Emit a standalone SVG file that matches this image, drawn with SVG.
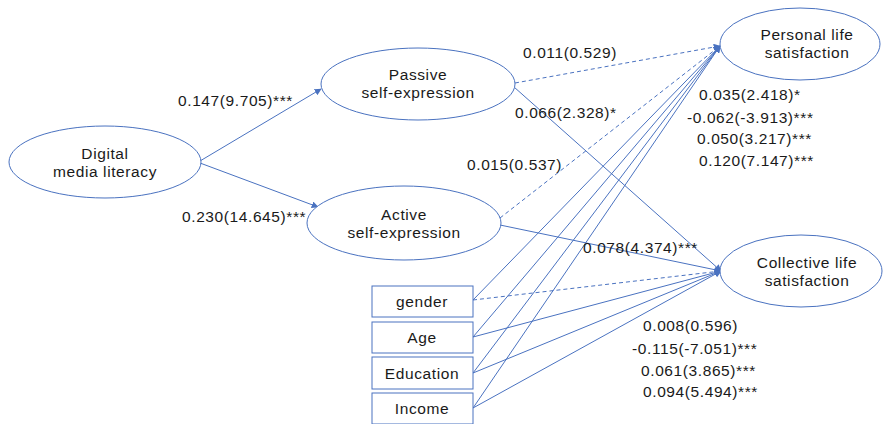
<svg xmlns="http://www.w3.org/2000/svg" width="887" height="424" viewBox="0 0 887 424">
<style>
.n{fill:#fff;stroke:#4a72c0;stroke-width:1}
.c{stroke:#4a72c0;stroke-width:1;fill:none}
.d{stroke:#4a72c0;stroke-width:1;fill:none;stroke-dasharray:4 3}
text{font-family:"Liberation Sans",Arial,sans-serif;font-size:15.5px;letter-spacing:0.6px;fill:#1a1a1a}
.m{text-anchor:middle}
</style>
<defs>
<marker id="a" viewBox="0 0 10 10" refX="9" refY="5" markerWidth="7" markerHeight="7" markerUnits="userSpaceOnUse" orient="auto">
<path d="M0,0L10,5L0,10z" fill="#4a72c0"/>
</marker>
</defs>
<rect width="887" height="424" fill="#fff"/>
<g id="connectors">
<line class="c" x1="200" y1="161" x2="321" y2="89" marker-end="url(#a)"/>
<line class="c" x1="200" y1="163" x2="318" y2="207" marker-end="url(#a)"/>
<line class="d" x1="515" y1="83" x2="720" y2="46" marker-end="url(#a)"/>
<line class="c" x1="514" y1="87" x2="721" y2="271" marker-end="url(#a)"/>
<line class="d" x1="500" y1="218" x2="720" y2="46" marker-end="url(#a)"/>
<line class="c" x1="500" y1="225" x2="721" y2="271" marker-end="url(#a)"/>
<line class="c" x1="473" y1="300" x2="720" y2="46" marker-end="url(#a)"/>
<line class="d" x1="473" y1="300" x2="721" y2="271" marker-end="url(#a)"/>
<line class="c" x1="473" y1="337" x2="720" y2="46" marker-end="url(#a)"/>
<line class="c" x1="473" y1="337" x2="721" y2="271" marker-end="url(#a)"/>
<line class="c" x1="473" y1="373" x2="720" y2="46" marker-end="url(#a)"/>
<line class="c" x1="473" y1="373" x2="721" y2="271" marker-end="url(#a)"/>
<line class="c" x1="473" y1="408" x2="720" y2="46" marker-end="url(#a)"/>
<line class="c" x1="473" y1="408" x2="721" y2="271" marker-end="url(#a)"/>
</g>
<g id="labels">
<text x="178" y="106">0.147(9.705)***</text>
<text x="182" y="222">0.230(14.645)***</text>
<text x="523" y="58">0.011(0.529)</text>
<text x="515" y="118">0.066(2.328)*</text>
<text x="467" y="170">0.015(0.537)</text>
<text x="583" y="253">0.078(4.374)***</text>
<text x="699" y="100">0.035(2.418)*</text>
<text x="687" y="123">-0.062(-3.913)***</text>
<text x="697" y="144">0.050(3.217)***</text>
<text x="699" y="166">0.120(7.147)***</text>
<text x="643" y="331">0.008(0.596)</text>
<text x="632" y="354">-0.115(-7.051)***</text>
<text x="641" y="376">0.061(3.865)***</text>
<text x="643" y="397">0.094(5.494)***</text>
</g>
<g id="dml">
<ellipse class="n" cx="105" cy="162" rx="96" ry="36"/>
<text class="m" x="105" y="159">Digital</text>
<text class="m" x="105" y="177">media  literacy</text>
</g>
<g id="passive">
<ellipse class="n" cx="418" cy="84" rx="97" ry="36"/>
<text class="m" x="418" y="80">Passive</text>
<text class="m" x="418" y="98">self-expression</text>
</g>
<g id="active">
<ellipse class="n" cx="404" cy="223" rx="97" ry="37"/>
<text class="m" x="404" y="220">Active</text>
<text class="m" x="404" y="238">self-expression</text>
</g>
<g id="personal">
<ellipse class="n" cx="800" cy="44" rx="80" ry="36"/>
<text class="m" x="807" y="40">Personal  life</text>
<text class="m" x="807" y="58">satisfaction</text>
</g>
<g id="collective">
<ellipse class="n" cx="801" cy="271" rx="81" ry="36"/>
<text class="m" x="807" y="268">Collective life</text>
<text class="m" x="807" y="286">satisfaction</text>
</g>
<g id="gender">
<rect class="n" x="372" y="286" width="101" height="31"/>
<text class="m" x="422" y="307">gender</text>
</g>
<g id="age">
<rect class="n" x="372" y="322" width="101" height="31"/>
<text class="m" x="422" y="343">Age</text>
</g>
<g id="education">
<rect class="n" x="372" y="357" width="101" height="32"/>
<text class="m" x="422" y="379">Education</text>
</g>
<g id="income">
<rect class="n" x="372" y="393" width="101" height="31"/>
<text class="m" x="422" y="414">Income</text>
</g>
</svg>
